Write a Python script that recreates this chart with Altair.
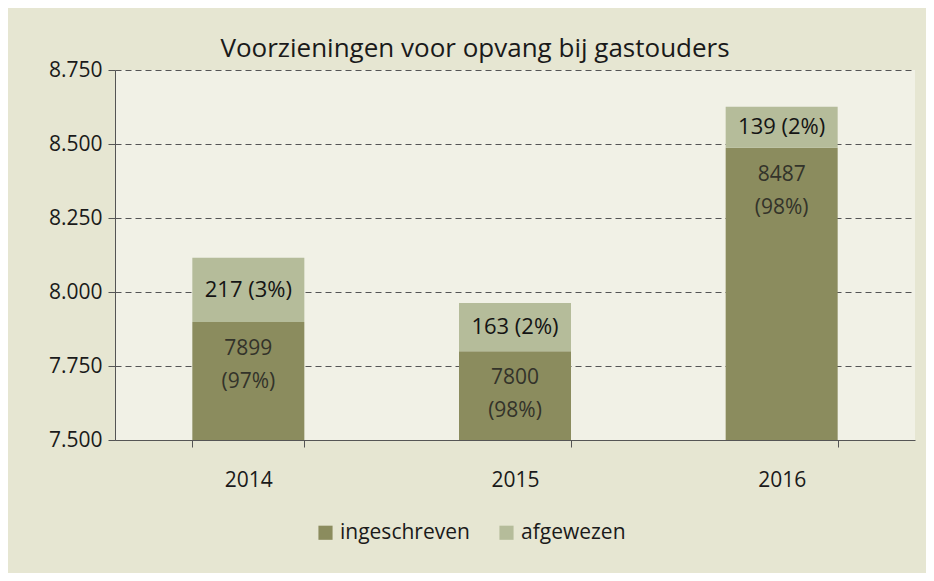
import altair as alt
import pandas as pd

years = ["2014", "2015", "2016"]
ingeschreven = [7899, 7800, 8487]
afgewezen = [217, 163, 139]
pct_in = [97, 98, 98]
pct_af = [3, 2, 2]
series = ["ingeschreven", "afgewezen"]
colors = ["#8b8c5e", "#b5bc9a"]

rows = []
for i, y in enumerate(years):
    rows.append({"jaar": y, "reeks": series[0], "waarde": ingeschreven[i], "volgorde": 0})
    rows.append({"jaar": y, "reeks": series[1], "waarde": afgewezen[i], "volgorde": 1})
df = pd.DataFrame(rows)

lab = pd.DataFrame({
    "jaar": years,
    "ing": ingeschreven,
    "mid": [ingeschreven[i] + afgewezen[i] / 2 for i in range(3)],
    "lower": [[str(ingeschreven[i]), f"({pct_in[i]}%)"] for i in range(3)],
    "upper": [f"{afgewezen[i]} ({pct_af[i]}%)" for i in range(3)],
})

FONT = "Open Sans"
yscale = alt.Scale(domain=[7500, 8750], zero=False, nice=False)
xenc = alt.X("jaar:N", sort=years, title=None,
             scale=alt.Scale(paddingInner=0.58, paddingOuter=0.29),
             axis=alt.Axis(labelAngle=0, labelFontSize=21, labelColor="#1a1a1a",
                           labelFont=FONT, labelPadding=22, tickBand="extent",
                           tickSize=7, tickColor="#555555", domainColor="#555555",
                           grid=False, labelBaseline="top"))

bars = alt.Chart(df).mark_bar(clip=True).encode(
    x=xenc,
    y=alt.Y("waarde:Q", stack="zero", scale=yscale, title=None,
            axis=alt.Axis(values=[7500, 7750, 8000, 8250, 8500, 8750],
                          labelExpr="replace(format(datum.value, ',.0f'), ',', '.')",
                          labelFontSize=21, labelFont=FONT, labelColor="#1a1a1a",
                          labelPadding=6, tickSize=7, tickColor="#555555",
                          domainColor="#555555", gridDash=[6, 4], gridColor="#555555",
                          gridWidth=1.2)),
    color=alt.Color("reeks:N", sort=series,
                    scale=alt.Scale(domain=series, range=colors),
                    legend=alt.Legend(title=None, orient="none", legendX=200, legendY=452,
                                      direction="horizontal",
                                      symbolType="square", symbolSize=200,
                                      symbolStrokeWidth=0, labelFontSize=21,
                                      labelFont=FONT, labelColor="#1a1a1a",
                                      columnPadding=26, labelOffset=4)),
    order=alt.Order("volgorde:Q"),
)

upper = alt.Chart(lab).mark_text(fontSize=22, font=FONT, color="#141414").encode(
    x=alt.X("jaar:N", sort=years), y=alt.Y("mid:Q", scale=yscale), text="upper:N")

lower = alt.Chart(lab).mark_text(fontSize=21, font=FONT, color="#33332a",
                                 baseline="top", dy=16, lineHeight=33).encode(
    x=alt.X("jaar:N", sort=years), y=alt.Y("ing:Q", scale=yscale), text="lower")

chart = alt.layer(bars, upper, lower).properties(
    width=800, height=370,
    title=alt.TitleParams("Voorzieningen voor opvang bij gastouders", fontSize=26,
                          font=FONT, fontWeight="normal", color="#1a1a1a",
                          offset=6, dx=-40, dy=9),
    background="#e6e6d2",
    padding={"left": 107, "top": 62, "right": 11, "bottom": 133},
    autosize=alt.AutoSizeParams(type="none"),
).configure_view(fill="#f1f1e6", stroke=None)

chart.save("out.html", embed_options={"renderer": "svg", "actions": False})
